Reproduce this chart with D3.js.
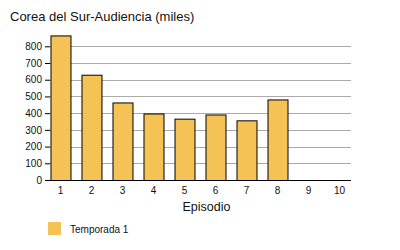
<!DOCTYPE html>
<html><head><meta charset="utf-8">
<script src="https://cdn.jsdelivr.net/npm/d3@7"></script>
<style>body{margin:0;background:#fff}svg{display:block}text{font-family:"Liberation Sans",Arial,Helvetica,sans-serif;fill:#111}</style>
</head><body><svg id="c" width="400" height="250"></svg>
<script>
const episodes = ["1","2","3","4","5","6","7","8","9","10"];
const audience = [865, 630, 464, 398, 367, 392, 357, 482, null, null];
const yTicks = [0,100,200,300,400,500,600,700,800];
const title = "Corea del Sur-Audiencia (miles)";
const xTitle = "Episodio";
const seriesName = "Temporada 1";

const svg = d3.select("#c");
const x = d3.scaleBand().domain(episodes).range([45, 355]).paddingInner(0.355).paddingOuter(0.177);
const y = d3.scaleLinear().domain([0, 800]).range([180, 46.3]);
const gridX0 = 50, gridX1 = 351;

svg.append("text").attr("x", 10).attr("y", 21).attr("font-size", 13).text(title);

svg.append("g").selectAll("line").data(yTicks.filter(d => d > 0)).join("line")
  .attr("x1", gridX0).attr("x2", gridX1)
  .attr("y1", d => Math.round(y(d)) + 0.5).attr("y2", d => Math.round(y(d)) + 0.5)
  .attr("stroke", "#aaaaaa").attr("stroke-width", 1);

const yAxis = svg.append("g").attr("transform", `translate(${gridX0},0)`)
  .call(d3.axisLeft(y).tickValues(yTicks).tickSize(5).tickPadding(3).tickFormat(d3.format("d")));
yAxis.select(".domain").remove();
yAxis.selectAll("line").attr("stroke", "#000");
yAxis.selectAll("text").attr("font-size", 10).attr("font-family", "Liberation Sans, Arial, sans-serif").attr("fill", "#111");

svg.append("g").selectAll("rect").data(episodes.map((e, i) => ({e, v: audience[i]})).filter(d => d.v != null)).join("rect")
  .attr("x", d => x(d.e) + 0.5).attr("width", x.bandwidth())
  .attr("y", d => y(d.v) + 0.5).attr("height", d => y(0) - y(d.v))
  .attr("fill", "#f4c255").attr("stroke", "#000").attr("stroke-width", 1);

const xAxis = svg.append("g").attr("transform", `translate(0,${Math.round(y(0)) + 0.5})`)
  .call(d3.axisBottom(x).tickSize(0).tickPadding(6));
xAxis.select(".domain").attr("d", `M45,0H${gridX1}`).attr("stroke", "#000");
xAxis.selectAll("text").attr("font-size", 10).attr("font-family", "Liberation Sans, Arial, sans-serif").attr("fill", "#111");

svg.append("text").attr("x", 206.5).attr("y", 211).attr("text-anchor", "middle").attr("font-size", 12.5).text(xTitle);

svg.append("rect").attr("x", 48).attr("y", 222).attr("width", 13).attr("height", 13).attr("fill", "#f4c255");
svg.append("text").attr("x", 70).attr("y", 233).attr("font-size", 10).text(seriesName);
</script></body></html>
